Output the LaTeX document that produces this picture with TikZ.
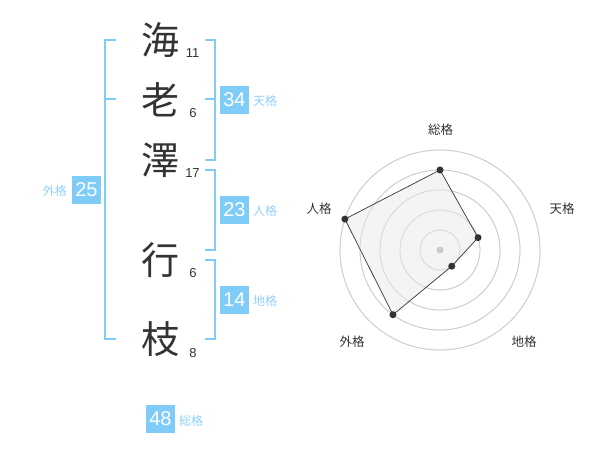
\documentclass[tikz,border=0pt]{standalone}
\usepackage{fontspec}
\setmainfont{Liberation Sans}
\newfontfamily\jpfont{Noto Sans CJK JP}
\definecolor{kblue}{HTML}{80CCF8}
\definecolor{klabel}{HTML}{8FD2F8}
\definecolor{kdark}{HTML}{333333}
\definecolor{kring}{HTML}{CCCCCC}
\definecolor{kfill}{HTML}{F2F2F2}
\begin{document}
\begin{tikzpicture}[x=1pt,y=-1pt,
  kanji/.style={font=\jpfont\fontsize{38}{38}\selectfont, text=kdark, inner sep=0pt},
  strokes/.style={font=\fontsize{13}{13}\selectfont, text=kdark, inner sep=0pt},
  valbox/.style={fill=kblue, text=white, minimum width=29pt, minimum height=28pt, inner sep=0pt, font=\fontsize{20}{20}\selectfont},
  vallabel/.style={font=\jpfont\fontsize{12}{12}\selectfont, text=klabel, inner sep=0pt},
  brk/.style={draw=kblue, line width=2pt},
  ring/.style={draw=kring, line width=0.8pt},
  dot/.style={circle, fill=kdark, minimum size=7pt, inner sep=0pt},
  cdot/.style={circle, fill=kring, minimum size=7pt, inner sep=0pt},
  axlabel/.style={font=\jpfont\fontsize{12.5}{12.5}\selectfont, text=kdark, inner sep=0pt}]
\useasboundingbox (0,0) rectangle (600,470);
% kanji
\node[kanji] (k1) at (160,40) {海};
\node[kanji] (k2) at (160,100) {老};
\node[kanji] (k3) at (160,160) {澤};
\node[kanji] (k4) at (160,260) {行};
\node[kanji] (k5) at (160,339) {枝};
\node[strokes] (s1) at (192.5,53) {11};
\node[strokes] (s2) at (193,113) {6};
\node[strokes] (s3) at (192.5,173) {17};
\node[strokes] (s4) at (193,273) {6};
\node[strokes] (s5) at (193,353) {8};
% brackets
\draw[brk] (116,40) -- (105,40) -- (105,339) -- (116,339);
\draw[brk] (105,99) -- (116,99);
\draw[brk] (205,40) -- (214.5,40) -- (214.5,160) -- (205,160);
\draw[brk] (205,99) -- (214.5,99);
\draw[brk] (205,170) -- (214.5,170) -- (214.5,250) -- (205,250);
\draw[brk] (205,260) -- (214.5,260) -- (214.5,339) -- (205,339);
% value boxes
\node[valbox] (b1) at (234.5,100) {34};
\node[vallabel, anchor=west] (l1) at (253,101) {天格};
\node[valbox] (b2) at (234.5,210) {23};
\node[vallabel, anchor=west] (l2) at (253,211) {人格};
\node[valbox] (b3) at (234.5,300) {14};
\node[vallabel, anchor=west] (l3) at (253,301) {地格};
\node[valbox] (b4) at (86.5,190) {25};
\node[vallabel, anchor=east] (l4) at (67,191) {外格};
\node[valbox] (b5) at (160.5,419) {48};
\node[vallabel, anchor=west] (l5) at (179,421) {総格};
% radar
\coordinate (c) at (440,250);
\path (c) ++(-90:80) coordinate (q1);
\path (c) ++(-18:40) coordinate (q2);
\path (c) ++(54:20) coordinate (q3);
\path (c) ++(126:80) coordinate (q4);
\path (c) ++(198:100) coordinate (q5);
\foreach \r in {20,40,60,80,100} \draw[ring] (c) circle[radius=\r];
\fill[kfill, opacity=0.85] (q1) -- (q2) -- (q3) -- (q4) -- (q5) -- cycle;
\foreach \r in {20,40,60,80,100} \draw[ring, opacity=0.6] (c) circle[radius=\r];
\draw[kdark, line width=0.7pt] (q1) -- (q2) -- (q3) -- (q4) -- (q5) -- cycle;
\node[dot] (p1) at (q1) {};
\node[dot] (p2) at (q2) {};
\node[dot] (p3) at (q3) {};
\node[dot] (p4) at (q4) {};
\node[dot] (p5) at (q5) {};
\node[cdot] (cd) at (c) {};
\node[axlabel] (a1) at (440.5,130) {総格};
\node[axlabel] (a2) at (562,209) {天格};
\node[axlabel] (a3) at (524,342) {地格};
\node[axlabel] (a4) at (352,342) {外格};
\node[axlabel] (a5) at (319,209) {人格};
\end{tikzpicture}
\end{document}
